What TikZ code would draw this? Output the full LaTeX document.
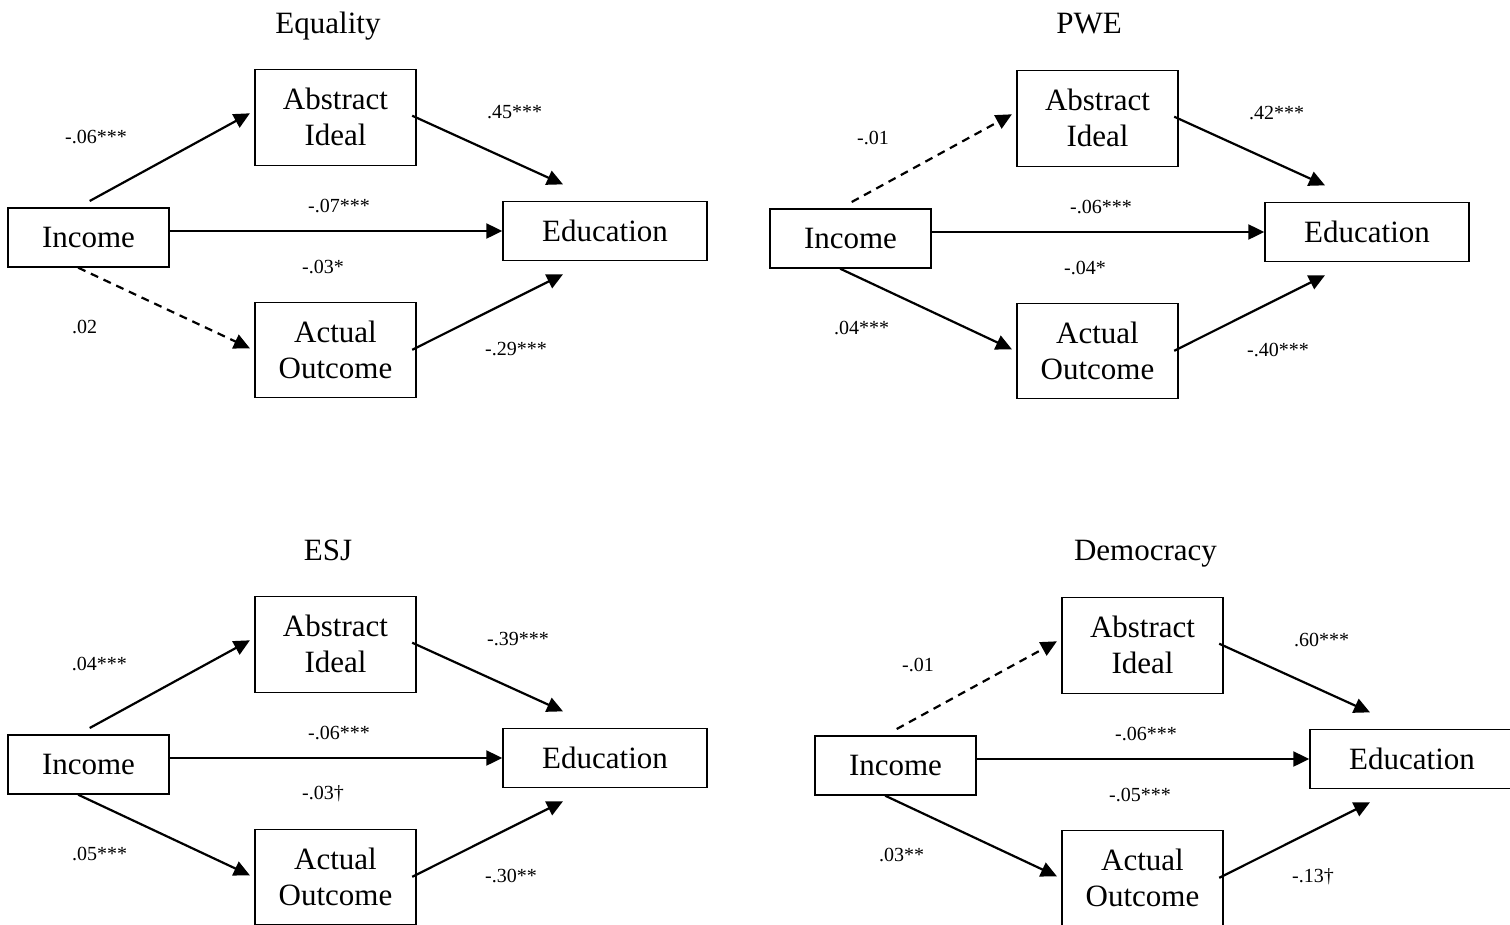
\documentclass[tikz,border=0pt]{standalone}
\usepackage{fontspec}
\setmainfont{Liberation Serif}
\usetikzlibrary{arrows.meta}

\tikzset{
  box/.style={draw, line width=1.4pt, minimum width=161pt, inner sep=0pt,
    align=center, font=\fontsize{31}{36}\selectfont},
  link/.style={line width=2.2pt, -{Triangle[length=16pt,width=15pt]}},
  coef/.style={inner sep=0pt, font=\fontsize{20}{24}\selectfont},
  ttl/.style={inner sep=0pt, anchor=base, font=\fontsize{31}{36}\selectfont},
  sig/.style={},
  ns/.style={dash pattern=on 8pt off 6pt}
}

% One mediation model: #1 name prefix, #2-#7 path coefficients,
% #8 line style of Income->Ideal, #9 line style of Income->Outcome
\newcommand\medpanel[9]{%
  \node[box, minimum height=96pt] (#1abs) at (335.5,117.2) {Abstract\\Ideal};
  \node[box, minimum height=59pt] (#1inc) at (88.5,237.5) {Income};
  \node[box, minimum width=204pt, minimum height=58.5pt] (#1edu) at (605,231) {Education};
  \node[box, minimum height=95pt] (#1act) at (335.5,349.8) {Actual\\Outcome};
  \draw[link,#8] ([shift={(1.2,-6.3)}]#1inc.north) -- ([shift={(-4.4,-3.9)}]#1abs.west);
  \draw[link,#9] ([shift={(-10.3,0)}]#1inc.south) -- ([shift={(-4.4,-1.5)}]#1act.west);
  \draw[link] ([shift={(-4.5,-1.5)}]#1abs.east) -- ([shift={(-42,-16.7)}]#1edu.north);
  \draw[link] ([shift={(-4.5,0)}]#1act.east) -- ([shift={(-42,13.3)}]#1edu.south);
  \draw[link] (#1inc.east |- #1edu.west) -- (#1edu.west);
  \node[coef, anchor=east] (#1l1) at (127,137) {#2};
  \node[coef, anchor=west] (#1l2) at (487,112) {#3};
  \node[coef] (#1l3) at (339,206) {#4};
  \node[coef, anchor=west] (#1l4) at (302,267) {#5};
  \node[coef, anchor=west] (#1l5) at (72,327) {#6};
  \node[coef, anchor=west] (#1l6) at (485,349) {#7};
}

\begin{document}
\begin{tikzpicture}[x=1pt, y=-1pt]
  \path[use as bounding box, clip] (0,0) rectangle (1510,924);

  \begin{scope}
    \node[ttl] (eqtitle) at (328,33) {Equality};
    \medpanel{eq}{-.06***}{.45***}{-.07***}{-.03*}{.02}{-.29***}{sig}{ns}
  \end{scope}

  \begin{scope}[shift={(762,1)}]
    \node[ttl] (pwetitle) at (327,32) {PWE};
    \medpanel{pwe}{-.01}{.42***}{-.06***}{-.04*}{.04***}{-.40***}{ns}{sig}
  \end{scope}

  \begin{scope}[shift={(0,527)}]
    \node[ttl] (esjtitle) at (328,33) {ESJ};
    \medpanel{esj}{.04***}{-.39***}{-.06***}{-.03†}{.05***}{-.30**}{sig}{sig}
  \end{scope}

  \begin{scope}[shift={(807,528)}]
    \node[ttl] (demtitle) at (338.5,32) {Democracy};
    \medpanel{dem}{-.01}{.60***}{-.06***}{-.05***}{.03**}{-.13†}{ns}{sig}
  \end{scope}
\end{tikzpicture}
\end{document}
